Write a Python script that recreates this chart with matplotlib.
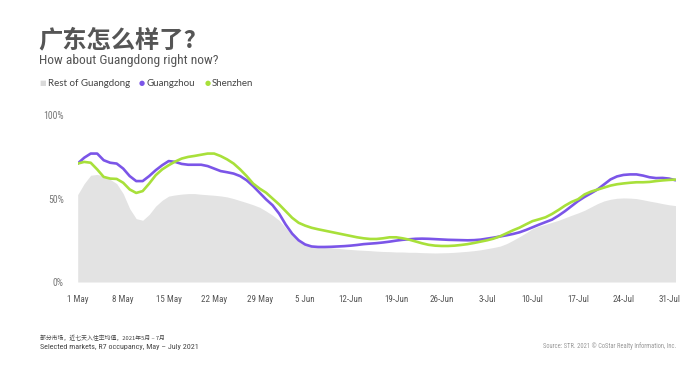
import pandas as pd
import matplotlib.pyplot as plt
from matplotlib import font_manager

fontes = {f.name for f in font_manager.fontManager.ttflist}
estreita = 'Liberation Sans'
for nome in ['Liberation Sans Narrow', 'Roboto Condensed', 'Open Sans Condensed', 'DejaVu Sans Condensed']:
    if nome in fontes:
        estreita = nome
        break

plt.rcParams['font.family'] = [estreita, 'Noto Sans CJK SC', 'DejaVu Sans']

# R7 occupancy (%), daily 1 May - 1 Aug 2021
dias = pd.date_range('2021-05-01', '2021-08-01', freq='D')

resto_guangdong = [
    52.4, 59, 64, 64.5, 63.5, 61.5, 59, 53, 44, 38,
    37, 40.5, 45.5, 49, 51.5, 52.2, 52.7, 53, 53, 52.6,
    52.3, 52, 51.6, 51, 50, 48.8, 47.6, 46.3, 44.8, 42.5,
    40, 37, 32.5, 28, 24.5, 22.5, 21.5, 21, 20.7, 20.5,
    20.2, 19.8, 19.5, 19.2, 19, 18.8, 18.5, 18.3, 18.2, 18,
    18, 17.8, 17.8, 17.6, 17.5, 17.4, 17.5, 17.6, 17.8, 18.1,
    18.4, 18.8, 19.3, 20, 20.7, 21.5, 23, 25, 27.2, 29.5,
    32, 33.5, 34.6, 35.8, 37, 38.5, 40, 41.4, 43, 45,
    47, 48.6, 49.6, 50.2, 50.4, 50.3, 50, 49.3, 48.5, 47.8,
    47, 46.3, 45.8,
]

guangzhou = [
    71, 74.5, 77, 77, 73, 71.5, 71, 68, 63.5, 60.5,
    60.5, 63.5, 67, 70, 72.5, 72, 70.8, 70.3, 70.3, 70.3,
    69.5, 68, 66.5, 65.8, 65, 63.5, 61, 57.5, 53.5, 49.5,
    46, 41, 34.5, 29, 25, 22.5, 21.3, 21, 21, 21.1,
    21.3, 21.5, 21.8, 22.2, 22.7, 23, 23.3, 23.7, 24.2, 24.8,
    25.3, 25.6, 25.9, 26, 25.9, 25.7, 25.5, 25.3, 25.2, 25.1,
    25, 25.1, 25.4, 26, 26.6, 27.3, 28, 28.8, 29.8, 31.2,
    32.8, 34.4, 35.9, 37.4, 39.8, 42.5, 45.5, 48.5, 51, 53.2,
    55.5, 58.5, 61.5, 63.3, 64.2, 64.5, 64.5, 63.8, 62.8, 62.3,
    62.4, 62, 61,
]

shenzhen = [
    71, 72, 71.5, 67.5, 63, 62, 61.8, 59.5, 55.5, 53.4,
    54.5, 59, 64, 67.5, 70, 72.2, 74, 75, 75.6, 76.3,
    77, 77, 75.5, 73.5, 71, 67.5, 63.5, 59, 56, 53.5,
    50, 46.5, 42.5, 38.5, 35.5, 33.8, 32.5, 31.6, 30.8, 30,
    29.2, 28.4, 27.6, 26.8, 26.2, 25.8, 25.8, 26.2, 26.8, 26.8,
    26.2, 25.4, 24.3, 23.2, 22.3, 21.8, 21.6, 21.6, 21.8, 22.2,
    22.7, 23.4, 24.2, 25, 26, 27.4, 29.2, 31, 32.6, 34.6,
    36.5, 37.6, 38.8, 40.8, 43.2, 45.8, 48, 49.6, 52.5, 54.2,
    55.4, 56.6, 57.8, 58.6, 59.1, 59.5, 59.8, 59.8, 60, 60.5,
    60.9, 61.2, 61.4,
]

ticks = pd.date_range('2021-05-01', '2021-07-31', freq='7D')
tick_labels = ['1 May', '8 May', '15 May', '22 May', '29 May', '5 Jun', '12-Jun',
               '19-Jun', '26-Jun', '3-Jul', '10-Jul', '17-Jul', '24-Jul', '31-Jul']

cor_cinza = '#e3e3e3'
cor_roxo = '#7b55e8'
cor_verde = '#a8e03a'

fig = plt.figure(figsize=(7, 3.67), dpi=100)
ax = fig.add_axes([0.111, 0.2316, 0.854, 0.4545])

ax.fill_between(dias, 0, resto_guangdong, color=cor_cinza, lw=0)
ax.plot(dias, guangzhou, color=cor_roxo, lw=1.9, solid_capstyle='round')
ax.plot(dias, shenzhen, color=cor_verde, lw=1.9, solid_capstyle='round')

ax.set_xlim(dias[0], dias[-1])
ax.set_ylim(0, 100)
ax.set_yticks([0, 50, 100])
ax.set_yticklabels(['0%', '50%', '100%'])
ax.set_xticks(ticks)
ax.set_xticklabels(tick_labels)
ax.tick_params(axis='both', length=0, labelsize=6.5, colors='#555555')
ax.tick_params(axis='y', pad=10, labelsize=7, colors='#777777')
ax.tick_params(axis='x', pad=9)
for s in ax.spines.values():
    s.set_visible(False)

# titulo e subtitulo
fig.text(0.055, 0.89, '广东怎么样了?', fontsize=17.5, color='#555555', weight='semibold',
         family=['Noto Sans CJK SC', 'DejaVu Sans'], va='center')
fig.text(0.056, 0.835, 'How about Guangdong right now?', fontsize=9.7,
         color='#555555', va='center')

# legenda
fig.text(0.056, 0.773, '■', fontsize=5, color='#d9d9d9', va='center',
         family='DejaVu Sans')
fig.text(0.068, 0.773, 'Rest of Guangdong', fontsize=7, color='#444444',
         va='center', family='Lato')
fig.text(0.198, 0.773, '●', fontsize=5, color=cor_roxo, va='center',
         family='DejaVu Sans')
fig.text(0.209, 0.773, 'Guangzhou', fontsize=7, color='#444444',
         va='center', family='Lato')
fig.text(0.293, 0.773, '●', fontsize=5, color=cor_verde, va='center',
         family='DejaVu Sans')
fig.text(0.303, 0.773, 'Shenzhen', fontsize=7, color='#444444',
         va='center', family='Lato')

# notas
fig.text(0.057, 0.079, '部分市场，近七天入住率均值，2021年5月 – 7月', fontsize=4.2,
         color='#444444', va='center', family=['Noto Sans CJK SC', 'DejaVu Sans'])
fig.text(0.057, 0.054, 'Selected markets, R7 occupancy, May – July 2021',
         fontsize=5.8, color='#444444', va='center')
fig.text(0.966, 0.056, 'Source: STR. 2021 © CoStar Realty Information, Inc.',
         fontsize=4.7, color='#999999', va='center', ha='right')

fig.savefig('out.png', dpi=100, facecolor='white')
